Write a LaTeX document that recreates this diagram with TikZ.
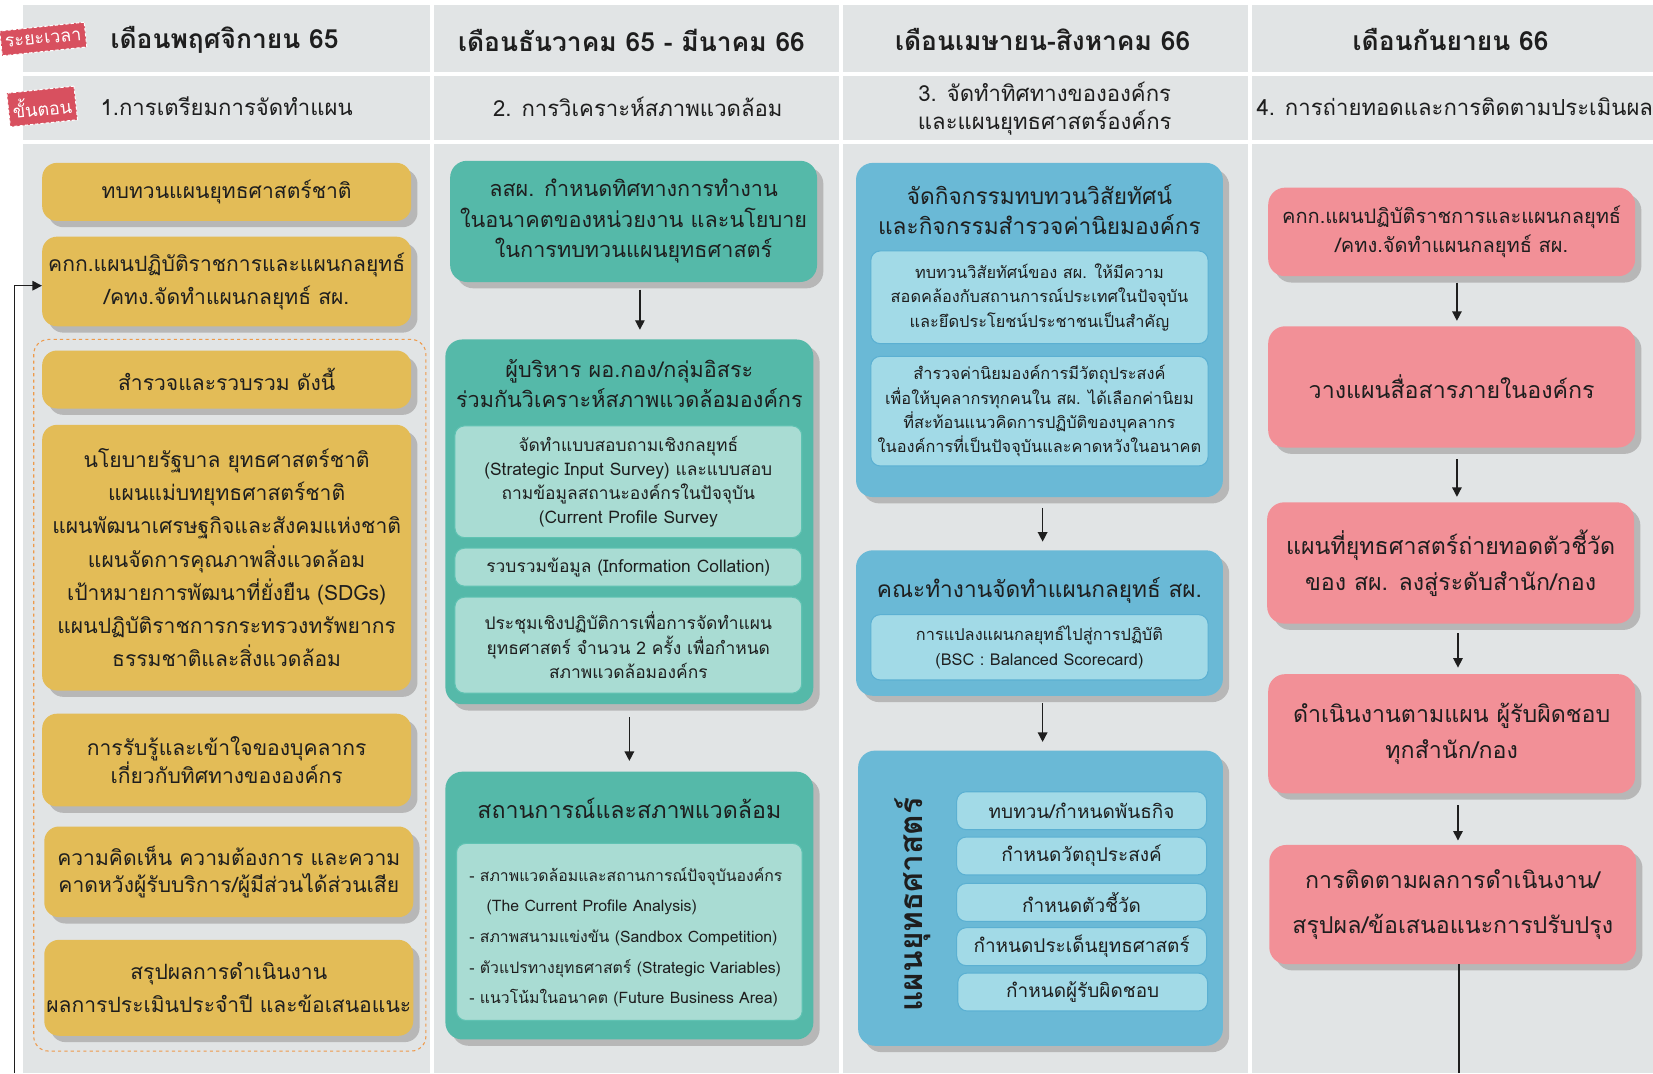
\documentclass[tikz,border=0pt]{standalone}
\usepackage{fontspec}
\setmainfont{Loma}[Script=Thai]
\usetikzlibrary{shadows,arrows.meta}
\definecolor{bgray}{HTML}{E1E4E5}
\definecolor{ylw}{HTML}{E3BC57}
\definecolor{shd}{HTML}{B7B7B7}
\definecolor{tealo}{HTML}{55B9A9}
\definecolor{teali}{HTML}{A9DCD3}
\definecolor{teale}{HTML}{5FC2B2}
\definecolor{blueo}{HTML}{6AB9D6}
\definecolor{bluei}{HTML}{A2DAE7}
\definecolor{bluee}{HTML}{5BB0D2}
\definecolor{pnk}{HTML}{F29097}
\definecolor{tagred}{HTML}{D8505F}
\definecolor{orng}{HTML}{EE9A4A}
\definecolor{ink}{HTML}{1E1E1E}
\tikzset{
 sh/.style={drop shadow={shadow xshift=6pt,shadow yshift=-6pt,fill=shd,opacity=1}},
 yb/.style={sh,fill=ylw,rounded corners=14pt,minimum width=350pt,inner sep=0pt,align=center,text=ink,font=\fontsize{20}{31.5}\selectfont},
 tb/.style={sh,fill=tealo,rounded corners=16pt,inner sep=0pt},
 tin/.style={fill=teali,draw=teale,line width=1pt,rounded corners=9pt,minimum width=329pt,inner sep=0pt,align=center,text=ink,font=\fontsize{16.5}{23}\selectfont},
 bb/.style={sh,fill=blueo,rounded corners=16pt,inner sep=0pt},
 bin/.style={fill=bluei,draw=bluee,line width=1pt,rounded corners=9pt,inner sep=0pt,align=center,text=ink,font=\fontsize{15.5}{23}\selectfont},
 pb/.style={sh,fill=pnk,rounded corners=16pt,minimum width=348pt,inner sep=0pt,align=center,text=ink,font=\fontsize{22}{34}\selectfont},
 ttl/.style={align=center,text=ink,inner sep=0pt},
 hd/.style={align=center,text=ink,inner sep=0pt,font=\fontsize{25}{30}\bfseries},
 hdb/.style={align=center,text=ink,inner sep=0pt,font=\fontsize{21}{27}\selectfont},
 arr/.style={-{Triangle[length=9pt,width=9pt]},line width=1.3pt,draw=ink},
 tagbox/.style={fill=tagred,draw=white,densely dashed,line width=1pt,text=white,inner xsep=4pt,inner ysep=7pt,font=\fontsize{17}{17}\selectfont},
}
\begin{document}
\begin{tikzpicture}[x=1pt,y=-1pt]
\useasboundingbox (0,0) rectangle (1568,1018);
\fill[white] (0,0) rectangle (1568,1018);
% grid cells
\foreach \xa/\xb in {22/408,412/796,800/1184,1188/1568}{
  \fill[bgray] (\xa,5) rectangle (\xb,68);
  \fill[bgray] (\xa,72) rectangle (\xb,133);
  \fill[bgray] (\xa,137) rectangle (\xb,1018);
}
% headers
\node[hd] (h1) at (213,38) {เดือนพฤศจิกายน 65};
\node[hd] (h2) at (599,38) {เดือนธันวาคม 65 - มีนาคม 66};
\node[hd] (h3) at (989,37) {เดือนเมษายน-สิงหาคม 66};
\node[hd] (h4) at (1376,37) {เดือนกันยายน 66};
\node[hdb] (s1) at (215,101) {1.การเตรียมการจัดทำแผน};
\node[hdb] (s2) at (605,101) {2. การวิเคราะห์สภาพแวดล้อม};
\node[hdb] (s3) at (991,103) {3. จัดทำทิศทางขององค์กร\\และแผนยุทธศาสตร์องค์กร};
\node[hdb] (s4) at (1380,101) {4. การถ่ายทอดและการติดตามประเมินผล};
\node[tagbox,rotate=6] (t1) at (41,37) {ระยะเวลา};
\node[tagbox,rotate=6] (t2) at (40,101) {ขั้นตอน};
% column 1
\draw[orng,dashed,line width=1pt,rounded corners=14pt] (32,322) rectangle (404,997);
\node[yb,minimum height=55pt] (y1) at (215,182) {ทบทวนแผนยุทธศาสตร์ชาติ};
\node[yb,minimum height=85pt] (y2) at (215,267) {คกก.แผนปฏิบัติราชการและแผนกลยุทธ์\\/คทง.จัดทำแผนกลยุทธ์ สผ.};
\node[yb,minimum height=55pt] (y3) at (215,360) {สำรวจและรวบรวม ดังนี้};
\node[yb,minimum height=252pt] (y4) at (215,529) {นโยบายรัฐบาล ยุทธศาสตร์ชาติ\\แผนแม่บทยุทธศาสตร์ชาติ\\แผนพัฒนาเศรษฐกิจและสังคมแห่งชาติ\\แผนจัดการคุณภาพสิ่งแวดล้อม\\เป้าหมายการพัฒนาที่ยั่งยืน (SDGs)\\แผนปฏิบัติราชการกระทรวงทรัพยากร\\ธรรมชาติและสิ่งแวดล้อม};
\node[yb,minimum height=88pt,font=\fontsize{20}{25}\selectfont] (y5) at (215,721) {การรับรู้และเข้าใจของบุคลากร\\เกี่ยวกับทิศทางขององค์กร};
\node[yb,minimum height=86pt,font=\fontsize{20}{25}\selectfont] (y6) at (217,827) {ความคิดเห็น ความต้องการ และความ\\คาดหวังผู้รับบริการ/ผู้มีส่วนได้ส่วนเสีย};
\node[yb,minimum height=91pt] (y7) at (217,937) {สรุปผลการดำเนินงาน\\ผลการประเมินประจำปี และข้อเสนอแนะ};
% column 2
\node[tb,minimum width=348pt,minimum height=115pt,align=center,text=ink,font=\fontsize{20.5}{29}\selectfont] (A) at (601,210) {ลสผ. กำหนดทิศทางการทำงาน\\ในอนาคตของหน่วยงาน และนโยบาย\\ในการทบทวนแผนยุทธศาสตร์};
\node[tb,minimum width=349pt,minimum height=346pt] (B) at (597,495) {};
\node[ttl,font=\fontsize{20.5}{29}\selectfont] (Bt) at (597,364) {ผู้บริหาร ผอ.กอง/กลุ่มอิสระ\\ร่วมกันวิเคราะห์สภาพแวดล้อมองค์กร};
\node[tin,minimum height=106pt] (B1) at (596,457) {จัดทำแบบสอบถามเชิงกลยุทธ์\\(Strategic Input Survey) และแบบสอบ\\ถามข้อมูลสถานะองค์กรในปัจจุบัน\\(Current Profile Survey};
\node[tin,minimum height=36pt] (B2) at (596,538) {รวบรวมข้อมูล (Information Collation)};
\node[tin,minimum height=91pt] (B3) at (596,612) {ประชุมเชิงปฏิบัติการเพื่อการจัดทำแผน\\ยุทธศาสตร์ จำนวน 2 ครั้ง เพื่อกำหนด\\สภาพแวดล้อมองค์กร};
\node[tb,minimum width=349pt,minimum height=254pt] (C) at (597,859) {};
\node[ttl,font=\fontsize{22}{29}\selectfont] (Ct) at (597,767) {สถานการณ์และสภาพแวดล้อม};
\node[tin,minimum width=328pt,minimum height=168pt] (C1) at (597,884) {};
\node[ttl,align=left,anchor=west,font=\fontsize{15}{29}\selectfont] (C1t) at (445,889) {- สภาพแวดล้อมและสถานการณ์ปัจจุบันองค์กร\\\hspace*{1.1em}(The Current Profile Analysis)\\- สภาพสนามแข่งขัน (Sandbox Competition)\\- ตัวแปรทางยุทธศาสตร์ (Strategic Variables)\\- แนวโน้มในอนาคต (Future Business Area)};
% column 3
\node[bb,minimum width=348pt,minimum height=317pt] (D) at (986,313) {};
\node[ttl,font=\fontsize{21.5}{29}\selectfont] (Dt) at (986,199) {จัดกิจกรรมทบทวนวิสัยทัศน์\\และกิจกรรมสำรวจค่านิยมองค์กร};
\node[bin,minimum width=320pt,minimum height=88pt] (D1) at (986,282) {ทบทวนวิสัยทัศน์ของ สผ. ให้มีความ\\สอดคล้องกับสถานการณ์ประเทศในปัจจุบัน\\และยึดประโยชน์ประชาชนเป็นสำคัญ};
\node[bin,minimum width=320pt,minimum height=104pt] (D2) at (986,390) {สำรวจค่านิยมองค์การมีวัตถุประสงค์\\เพื่อให้บุคลากรทุกคนใน สผ. ได้เลือกค่านิยม\\ที่สะท้อนแนวคิดการปฏิบัติของบุคลากร\\ในองค์การที่เป็นปัจจุบันและคาดหวังในอนาคต};
\node[bb,minimum width=348pt,minimum height=138pt] (E) at (986,591) {};
\node[ttl,font=\fontsize{21.5}{29}\selectfont] (Et) at (986,560) {คณะทำงานจัดทำแผนกลยุทธ์ สผ.};
\node[bin,minimum width=320pt,minimum height=62pt] (E1) at (986,614) {การแปลงแผนกลยุทธ์ไปสู่การปฏิบัติ\\(BSC : Balanced Scorecard)};
\node[bb,minimum width=346pt,minimum height=280pt] (F) at (987,852) {};
\node[ttl,rotate=90,font=\fontsize{30}{30}\bfseries] (Ft) at (866,858) {แผนยุทธศาสตร์};
\node[bin,minimum width=237pt,minimum height=36pt,font=\fontsize{18}{23}\selectfont] (F1) at (1026,769) {ทบทวน/กำหนดพันธกิจ};
\node[bin,minimum width=237pt,minimum height=36pt,font=\fontsize{18}{23}\selectfont] (F2) at (1026,812) {กำหนดวัตถุประสงค์};
\node[bin,minimum width=237pt,minimum height=36pt,font=\fontsize{18}{23}\selectfont] (F3) at (1026,856) {กำหนดตัวชี้วัด};
\node[bin,minimum width=237pt,minimum height=36pt,font=\fontsize{18}{23}\selectfont] (F4) at (1026,898) {กำหนดประเด็นยุทธศาสตร์};
\node[bin,minimum width=237pt,minimum height=36pt,font=\fontsize{18}{23}\selectfont] (F5) at (1027,941) {กำหนดผู้รับผิดชอบ};
% column 4
\node[pb,minimum height=84pt,font=\fontsize{19}{27}\selectfont] (G) at (1377,220) {คกก.แผนปฏิบัติราชการและแผนกลยุทธ์\\/คทง.จัดทำแผนกลยุทธ์ สผ.};
\node[pb,minimum height=115pt] (H) at (1377,367) {วางแผนสื่อสารภายในองค์กร};
\node[pb,minimum height=115pt] (I) at (1376,534) {แผนที่ยุทธศาสตร์ถ่ายทอดตัวชี้วัด\\ของ สผ. ลงสู่ระดับสำนัก/กอง};
\node[pb,minimum height=113pt] (J) at (1377,696) {ดำเนินงานตามแผน ผู้รับผิดชอบ\\ทุกสำนัก/กอง};
\node[pb,minimum height=113pt,font=\fontsize{22}{43}\selectfont] (K) at (1378,858) {การติดตามผลการดำเนินงาน/\\สรุปผล/ข้อเสนอแนะการปรับปรุง};
% arrows
\draw[arr] ([xshift=6pt,yshift=-7pt]A.south) -- ([xshift=6pt,yshift=9pt]A.south |- B.north);
\draw[arr] ([yshift=-12pt]B.south) -- ([yshift=10pt]B.south |- C.north);
\draw[arr] ([xshift=3pt,yshift=-10pt]D.south) -- ([xshift=3pt,yshift=8pt]D.south |- E.north);
\draw[arr] ([xshift=3pt,yshift=-7pt]E.south) -- ([xshift=3pt,yshift=8pt]E.south |- F.north);
\draw[arr] ([xshift=5pt,yshift=-6pt]G.south) -- ([xshift=5pt,yshift=5pt]G.south |- H.north);
\draw[arr] ([xshift=5pt,yshift=-11pt]H.south) -- ([xshift=5pt,yshift=5pt]H.south |- I.north);
\draw[arr] ([xshift=7pt,yshift=-9pt]I.south) -- ([xshift=7pt,yshift=6pt]I.south |- J.north);
\draw[arr] ([xshift=6pt,yshift=-11pt]J.south) -- ([xshift=6pt,yshift=4pt]J.south |- K.north);
% feedback loop
\coordinate (fbR) at (1384,1018);
\coordinate (fbL) at (14,1018);
\draw[ink,line width=1.3pt] ([xshift=6pt]K.south) -- (fbR);
\draw[arr] (fbL) |- ([yshift=-4pt]y2.west);
\end{tikzpicture}
\end{document}
